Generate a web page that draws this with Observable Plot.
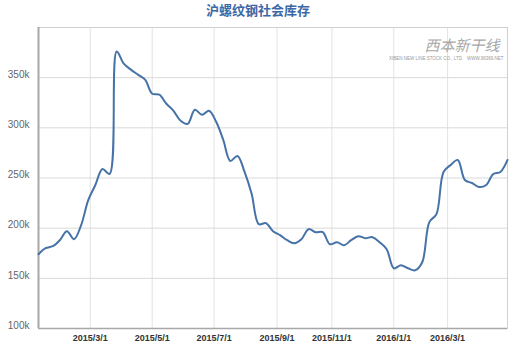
<!DOCTYPE html>
<html>
<head>
<meta charset="utf-8">
<script src="https://cdn.jsdelivr.net/npm/d3@7"></script>
<script src="https://cdn.jsdelivr.net/npm/@observablehq/plot@0.6"></script>
<style>
  html, body { margin: 0; padding: 0; background: #fff; }
  #title { height: 24px; line-height: 24px; text-align: center; font: bold 13px "Noto Sans CJK SC", sans-serif; color: #3d68a6; }
  svg { display: block; }
</style>
</head>
<body>
<div id="title">沪螺纹钢社会库存</div>
<div id="chart"></div>
<script>
// Weekly (Friday) observations; holiday weeks are absent (ordinal axis)
const dates = [
  "2015-01-02","2015-01-09","2015-01-16","2015-01-23","2015-01-30","2015-02-06","2015-02-13","2015-02-27",
  "2015-03-06","2015-03-13","2015-03-20","2015-03-27","2015-04-03","2015-04-10","2015-04-17","2015-04-24",
  "2015-05-01","2015-05-08","2015-05-15","2015-05-22","2015-05-29","2015-06-05","2015-06-12","2015-06-19",
  "2015-06-26","2015-07-03","2015-07-10","2015-07-17","2015-07-24","2015-07-31","2015-08-07","2015-08-14",
  "2015-08-21","2015-08-28","2015-09-04","2015-09-11","2015-09-18","2015-09-25","2015-10-09","2015-10-16",
  "2015-10-23","2015-10-30","2015-11-06","2015-11-13","2015-11-20","2015-11-27","2015-12-04","2015-12-11",
  "2015-12-18","2015-12-25","2016-01-01","2016-01-08","2016-01-15","2016-01-22","2016-01-29","2016-02-05",
  "2016-02-19","2016-02-26","2016-03-04","2016-03-11","2016-03-18","2016-03-25","2016-04-01","2016-04-08",
  "2016-04-15","2016-04-22","2016-04-29"
];
const stock = [
  174000,180000,182000,188000,197000,189000,203000,228000,
  243000,259000,254000,376000,364000,358000,353000,348000,
  334000,333000,324000,317000,307000,304000,318000,313000,
  317000,306000,288000,267000,272000,256000,234000,204000,
  205000,197000,193000,188000,185000,189000,199000,196000,
  196000,184000,186000,183000,188000,192000,190000,191000,
  186000,179000,160000,163000,160000,158000,166000,206000,
  214000,256000,263000,268000,248000,245000,241000,243000,
  254000,256000,268000
];
const tickDates = ["2015-03-01","2015-05-01","2015-07-01","2015-09-01","2015-11-01","2016-01-01","2016-03-01"];
const tickLabels = ["2015/3/1","2015/5/1","2015/7/1","2015/9/1","2015/11/1","2016/1/1","2016/3/1"];
const yTicks = [100000,150000,200000,250000,300000,350000];

const parse = d3.utcParse("%Y-%m-%d");
const times = dates.map(parse);
const data = stock.map((v, i) => ({i, v}));
// ordinal position of a calendar date between observations
function ordinal(t) {
  for (let k = 0; k < times.length - 1; k++) {
    if (t >= times[k] && t <= times[k + 1]) return k + (t - times[k]) / (times[k + 1] - times[k]);
  }
  return 0;
}
const tickPos = tickDates.map(d => ordinal(parse(d)));
const labelOf = new Map(tickPos.map((p, k) => [p, tickLabels[k]]));

const chart = Plot.plot({
  width: 516,
  height: 322,
  marginLeft: 38,
  marginRight: 9,
  marginTop: 3,
  marginBottom: 18,
  style: {fontFamily: "Liberation Sans, Arial, sans-serif", background: "#fff"},
  x: {domain: [0, stock.length - 1], axis: null},
  y: {domain: [100000, 400000], axis: null},
  marks: [
    Plot.gridX(tickPos, {stroke: "#e3e3e3", strokeOpacity: 1}),
    Plot.gridY(yTicks, {stroke: "#d9d9d9", strokeOpacity: 1}),
    Plot.frame({stroke: "#d0d0d0"}),
    Plot.ruleX([0], {stroke: "#a8a8a8", strokeWidth: 2}),
    Plot.ruleY([100000], {stroke: "#a8a8a8", strokeWidth: 1.5}),
    Plot.axisY(yTicks, {tickSize: 0, tickPadding: 9, dy: -3, fontSize: 10, fill: "#666", label: null,
      tickFormat: d => d / 1000 + "k"}),
    Plot.axisX(tickPos, {tickSize: 0, tickPadding: 6, fontSize: 9, fontWeight: "bold", fill: "#333", label: null,
      tickFormat: p => labelOf.get(p)}),
    Plot.text(["西本新干线"], {frameAnchor: "top-right", dx: -8, dy: 13, fontSize: 15, fontStyle: "italic",
      fill: "#a8a8a8", fontFamily: "Noto Sans CJK SC"}),
    Plot.text(["XIBEN NEW LINE STOCK CO., LTD.   WWW.96369.NET"], {frameAnchor: "top-right", dx: -4, dy: 29,
      fontSize: 4.5, fill: "#999"}),
    Plot.line(data, {x: "i", y: "v", stroke: "#4572a7", strokeWidth: 2, curve: "catmull-rom"})
  ]
});
document.getElementById("chart").appendChild(chart);
</script>
</body>
</html>
